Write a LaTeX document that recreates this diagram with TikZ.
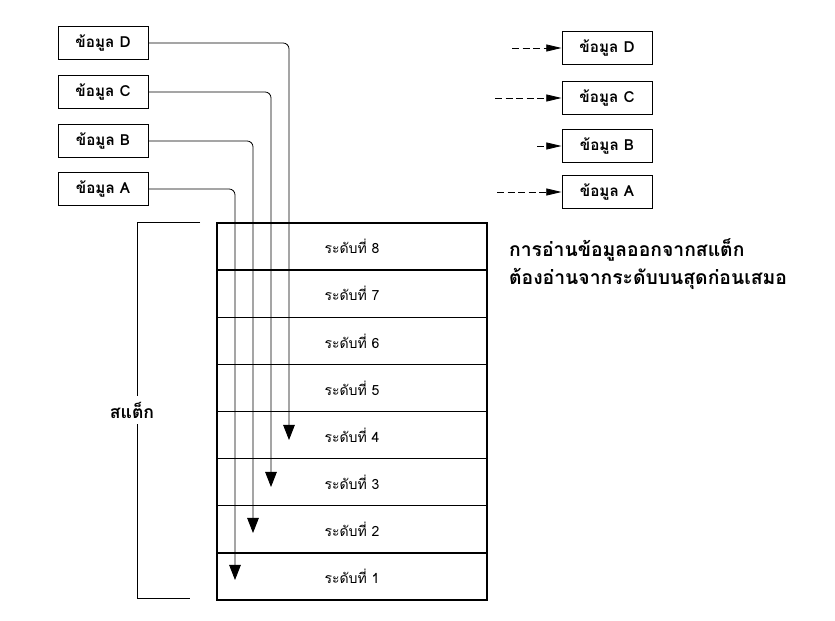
\documentclass[tikz,border=0pt]{standalone}
\usepackage{fontspec}
\newfontfamily\thaifont[Script=Thai]{Loma}
\usetikzlibrary{arrows.meta}

\begin{document}
\begin{tikzpicture}[x=0.03cm,y=-0.03cm,
  databox/.style={draw,line width=0.8pt,minimum width=2.7cm,minimum height=1cm,
    inner sep=0pt,font=\thaifont\bfseries\fontsize{13}{15}\selectfont},
  level/.style={draw,line width=1.1pt,minimum width=8.1cm,minimum height=1.41375cm,
    inner sep=0pt,font=\thaifont\fontsize{12}{14}\selectfont},
  feed/.style={line width=0.7pt,rounded corners=5pt},
  drop/.style={feed,-{Triangle[width=10pt,length=13pt]}},
  pop/.style={line width=0.7pt,dash pattern=on 6pt off 3pt,-{Triangle[width=6pt,length=13pt]}}]
  \fill[white] (0,0) rectangle (835,621);
  \useasboundingbox (0,0) rectangle (835,621);
  % data waiting to be pushed
  \node[databox] (inD) at (103,43) {ข้อมูล D};
  \node[databox] (inC) at (103,92) {ข้อมูล C};
  \node[databox] (inB) at (103,141) {ข้อมูล B};
  \node[databox] (inA) at (103,189) {ข้อมูล A};
  % the stack, top level first
  \foreach \n [count=\k] in {8,7,6,5,4,3,2,1}
    \node[level] (lvl\n) at (352,{223+47.125*(\k-0.5)}) {ระดับที่ \n};
  % push paths
  \coordinate (endD) at (289,440);
  \coordinate (endC) at (271,487);
  \coordinate (endB) at (253,533);
  \coordinate (endA) at (235,580);
  \draw[drop] (inD.east) -| (endD);
  \draw[drop] (inC.east) -| (endC);
  \draw[drop] (inB.east) -| (endB);
  \draw[drop] (inA.east) -| (endA);
  % bracket
  \node[font=\thaifont\bfseries\fontsize{15}{17}\selectfont] (stk) at (132,410) {สแต็ก};
  \draw[line width=0.7pt] (200,222) -- (137,222) -- (137,396);
  \draw[line width=0.7pt] (137,424) -- (137,598) -- (190,598);
  % data read out
  \node[databox] (outD) at (607,48) {ข้อมูล D};
  \node[databox] (outC) at (607,98) {ข้อมูล C};
  \node[databox] (outB) at (607,146) {ข้อมูล B};
  \node[databox] (outA) at (607,192) {ข้อมูล A};
  \coordinate (fromD) at (512,48);
  \coordinate (fromC) at (495,98);
  \coordinate (fromB) at (537,146);
  \coordinate (fromA) at (497,192);
  \draw[pop] (fromD) -- (outD);
  \draw[pop] (fromC) -- (outC);
  \draw[pop] (fromB) -- (outB);
  \draw[pop] (fromA) -- (outA);
  \node[anchor=west,align=left,font=\thaifont\bfseries\fontsize{16.5}{24}\selectfont] (note) at (505,264)
    {การอ่านข้อมูลออกจากสแต็ก\\ต้องอ่านจากระดับบนสุดก่อนเสมอ};
\end{tikzpicture}
\end{document}
